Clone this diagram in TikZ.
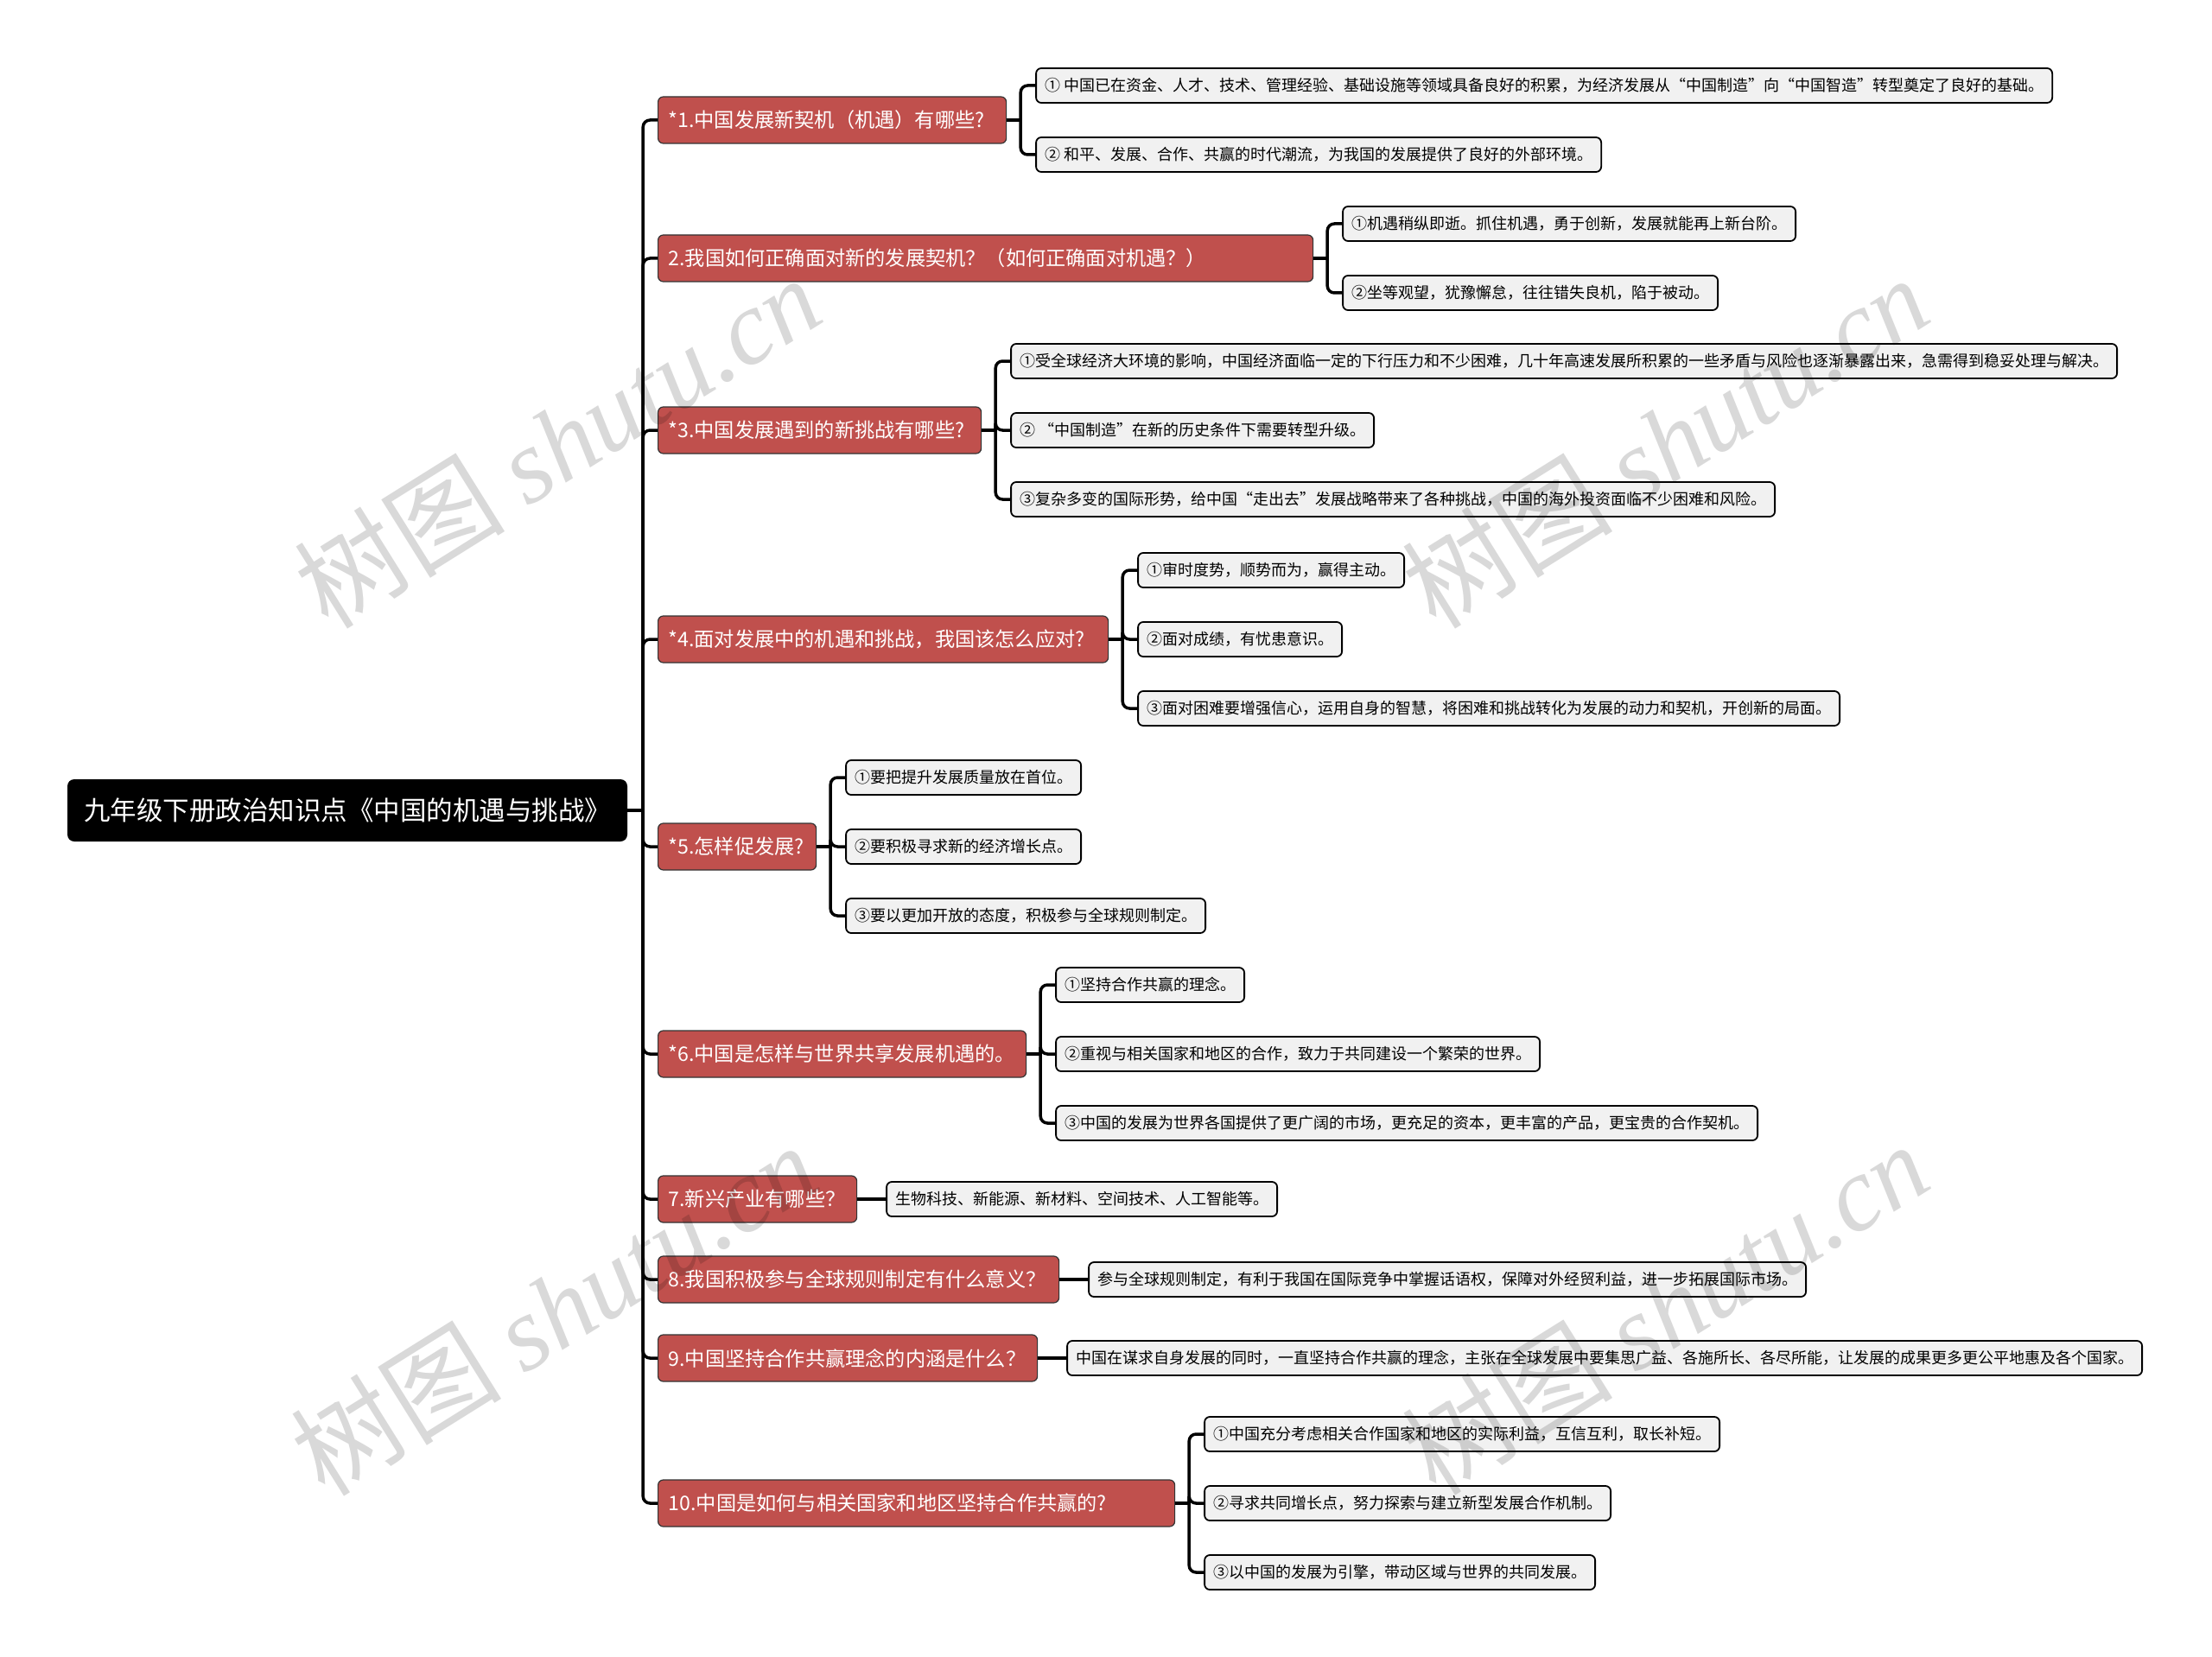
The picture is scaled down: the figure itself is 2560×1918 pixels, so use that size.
\documentclass[tikz,border=0pt]{standalone}
\usepackage{fontspec}
\setmainfont{Noto Sans CJK SC}
\newfontfamily\wmlatin{Liberation Serif}
\usepackage{tikz}
\usetikzlibrary{positioning}

\definecolor{qred}{RGB}{192,80,77}
\definecolor{leafgray}{RGB}{241,241,241}

\tikzset{
    rootbox/.style={fill=black, text=white, rounded corners=8pt, minimum height=72pt,
        inner xsep=19pt, font=\fontsize{30.5}{36}\selectfont},
    qbox/.style={fill=qred, draw=black!80, line width=1.2pt, text=white, rounded corners=6pt,
        minimum height=54pt, inner xsep=12pt, inner ysep=0pt, align=left, anchor=west,
        font=\fontsize{23.2}{28}\selectfont},
    abox/.style={fill=leafgray, draw=black, line width=1.8pt, rounded corners=6pt,
        minimum height=40pt, inner xsep=10pt, inner ysep=0pt,
        font=\fontsize{18}{22}\selectfont},
    link/.style={draw=black, line width=3.5pt, rounded corners=8pt},
    wmark/.style={text=black!15, rotate=32, font=\fontsize{122}{122}\selectfont}
}

\begin{document}
\begin{tikzpicture}[x=1pt, y=-1pt]
    \path[use as bounding box, fill=white] (0,0) rectangle (2560,1918);

    \node[rootbox] (root) at (402,938) {九年级下册政治知识点《中国的机遇与挑战》};
    \coordinate (tr) at ([xshift=18pt]root.east);

    % questions
    \node[qbox, text width=379pt] (b1) at (761,139) {*1.中国发展新契机（机遇）有哪些?};
    \node[qbox, text width=734pt] (b2) at (761,299) {2.我国如何正确面对新的发展契机？（如何正确面对机遇？）};
    \node[qbox, text width=350pt] (b3) at (761,498) {*3.中国发展遇到的新挑战有哪些?};
    \node[qbox, text width=497pt] (b4) at (761,740) {*4.面对发展中的机遇和挑战，我国该怎么应对?};
    \node[qbox, text width=159pt] (b5) at (761,980) {*5.怎样促发展?};
    \node[qbox, text width=402pt] (b6) at (761,1220) {*6.中国是怎样与世界共享发展机遇的。};
    \node[qbox, text width=206pt] (b7) at (761,1388) {7.新兴产业有哪些？};
    \node[qbox, text width=440pt] (b8) at (761,1481) {8.我国积极参与全球规则制定有什么意义？};
    \node[qbox, text width=415pt] (b9) at (761,1572) {9.中国坚持合作共赢理念的内涵是什么？};
    \node[qbox, text width=574pt] (b10) at (761,1740) {10.中国是如何与相关国家和地区坚持合作共赢的?};

    % answers
    \node[abox, right=33pt of b1, yshift=40pt] (a11) {① 中国已在资金、人才、技术、管理经验、基础设施等领域具备良好的积累，为经济发展从“中国制造”向“中国智造”转型奠定了良好的基础。};
    \node[abox, right=33pt of b1, yshift=-40pt] (a12) {② 和平、发展、合作、共赢的时代潮流，为我国的发展提供了良好的外部环境。};
    \node[abox, right=33pt of b2, yshift=40pt] (a21) {①机遇稍纵即逝。抓住机遇，勇于创新，发展就能再上新台阶。};
    \node[abox, right=33pt of b2, yshift=-40pt] (a22) {②坐等观望，犹豫懈怠，往往错失良机，陷于被动。};
    \node[abox, right=33pt of b3, yshift=80pt] (a31) {①受全球经济大环境的影响，中国经济面临一定的下行压力和不少困难，几十年高速发展所积累的一些矛盾与风险也逐渐暴露出来，急需得到稳妥处理与解决。};
    \node[abox, right=33pt of b3] (a32) {② “中国制造”在新的历史条件下需要转型升级。};
    \node[abox, right=33pt of b3, yshift=-80pt] (a33) {③复杂多变的国际形势，给中国“走出去”发展战略带来了各种挑战，中国的海外投资面临不少困难和风险。};
    \node[abox, right=33pt of b4, yshift=80pt] (a41) {①审时度势，顺势而为，赢得主动。};
    \node[abox, right=33pt of b4] (a42) {②面对成绩，有忧患意识。};
    \node[abox, right=33pt of b4, yshift=-80pt] (a43) {③面对困难要增强信心，运用自身的智慧，将困难和挑战转化为发展的动力和契机，开创新的局面。};
    \node[abox, right=33pt of b5, yshift=80pt] (a51) {①要把提升发展质量放在首位。};
    \node[abox, right=33pt of b5] (a52) {②要积极寻求新的经济增长点。};
    \node[abox, right=33pt of b5, yshift=-80pt] (a53) {③要以更加开放的态度，积极参与全球规则制定。};
    \node[abox, right=33pt of b6, yshift=80pt] (a61) {①坚持合作共赢的理念。};
    \node[abox, right=33pt of b6] (a62) {②重视与相关国家和地区的合作，致力于共同建设一个繁荣的世界。};
    \node[abox, right=33pt of b6, yshift=-80pt] (a63) {③中国的发展为世界各国提供了更广阔的市场，更充足的资本，更丰富的产品，更宝贵的合作契机。};
    \node[abox, right=33pt of b7] (a71) {生物科技、新能源、新材料、空间技术、人工智能等。};
    \node[abox, right=33pt of b8] (a81) {参与全球规则制定，有利于我国在国际竞争中掌握话语权，保障对外经贸利益，进一步拓展国际市场。};
    \node[abox, right=33pt of b9] (a91) {中国在谋求自身发展的同时，一直坚持合作共赢的理念，主张在全球发展中要集思广益、各施所长、各尽所能，让发展的成果更多更公平地惠及各个国家。};
    \node[abox, right=33pt of b10, yshift=80pt] (a101) {①中国充分考虑相关合作国家和地区的实际利益，互信互利，取长补短。};
    \node[abox, right=33pt of b10] (a102) {②寻求共同增长点，努力探索与建立新型发展合作机制。};
    \node[abox, right=33pt of b10, yshift=-80pt] (a103) {③以中国的发展为引擎，带动区域与世界的共同发展。};

    % links
    \draw[link] (root.east) -- (tr);
    \foreach \q in {1,...,10}
        \draw[link] (tr) |- (b\q.west);
    \foreach \q/\n in {1/2,2/2,3/3,4/3,5/3,6/3,10/3} {
        \coordinate (s\q) at ([xshift=16pt]b\q.east);
        \draw[link] (b\q.east) -- (s\q);
        \foreach \k in {1,...,\n}
            \draw[link] (s\q) |- (a\q\k.west);
    }
    \foreach \q in {7,8,9}
        \draw[link] (b\q.east) -- (a\q1.west);

    % watermark
    \begin{scope}[blend mode=multiply]
    \foreach \x/\y [count=\i] in {645/511, 1927/511, 641/1515, 1927/1514}
        \node[wmark] (wm\i) at (\x,\y) {树图 {\wmlatin\itshape shutu.cn}};
    \end{scope}
\end{tikzpicture}
\end{document}
